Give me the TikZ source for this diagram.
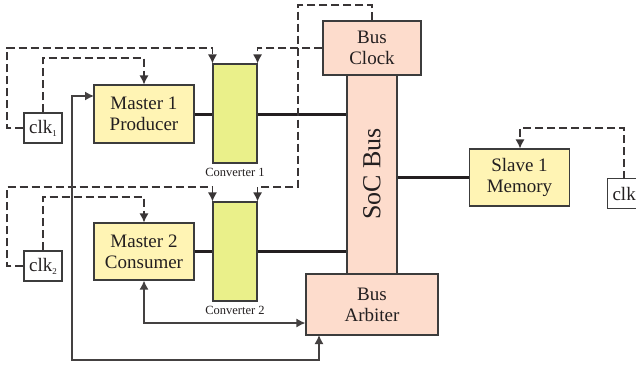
\documentclass[tikz,border=0pt]{standalone}
\usepackage{fontspec}
\setmainfont{Liberation Serif}
\usetikzlibrary{arrows.meta}
\definecolor{inkc}{HTML}{231F20}
\definecolor{edgec}{HTML}{3C3C3C}
\definecolor{mastfill}{HTML}{FFF4B4}
\definecolor{convfill}{HTML}{EAF08A}
\definecolor{busfill}{HTML}{FDDCCC}
\tikzset{
  blk/.style={draw=edgec, line width=1.1pt, inner sep=0pt, align=center,
    text=inkc, font=\fontsize{19}{21}\selectfont},
  mastbox/.style={blk, fill=mastfill, minimum width=100pt, minimum height=57pt},
  convbox/.style={blk, fill=convfill, minimum width=44pt, minimum height=99pt},
  busbox/.style={blk, fill=busfill},
  clkbox/.style={blk, fill=white, minimum width=38pt, minimum height=30pt},
  caption/.style={text=inkc, font=\fontsize{12.5}{14}\selectfont, inner sep=0pt},
  dsh/.style={draw=inkc!90, line width=1.2pt, dash pattern=on 8pt off 4pt},
  sol/.style={draw=inkc!85, line width=1.4pt},
  tip/.style={-{Latex[length=9pt,width=9pt]}},
  tips/.style={{Latex[length=9pt,width=9pt]}-{Latex[length=9pt,width=9pt]}},
  busline/.style={draw=inkc, line width=3pt}
}
\newcommand{\clksub}[1]{clk\raisebox{-3pt}{\fontsize{9}{9}\selectfont #1}}
\begin{document}
\begin{tikzpicture}[x=1pt, y=-1pt]
\useasboundingbox (0,0) rectangle (636,364);

% bus column: clock on top, arbiter at the foot
\node[busbox, minimum width=50pt, minimum height=199pt] (soc) at (372,174.5) {};
\node[busbox, minimum width=98pt, minimum height=54pt] (bc) at (372,48) {Bus\\Clock};
\node[busbox, minimum width=132pt, minimum height=61pt] (arb) at (372,304.5) {Bus\\Arbiter};
\node[text=inkc, font=\fontsize{26}{28}\selectfont, rotate=90, inner sep=0pt] (soclab) at (372,174) {SoC Bus};

% masters and converters
\node[mastbox, minimum height=58pt] (m1) at (144,114) {Master 1\\Producer};
\node[mastbox] (m2) at (144,251.5) {Master 2\\Consumer};
\node[convbox] (cv1) at (235,113.5) {};
\node[convbox] (cv2) at (235,251.5) {};
\node[caption] (cv1lab) at (235,172) {Converter 1};
\node[caption] (cv2lab) at (235,310) {Converter 2};

% slave side
\node[mastbox] (sl) at (519.5,177.5) {Slave 1\\Memory};

% clock sources
\node[clkbox] (k1) at (43,128) {\clksub{1}};
\node[clkbox] (k2) at (43,266) {\clksub{2}};
\node[clkbox, anchor=west, minimum width=0pt, text width=36pt, inner xsep=5pt, align=left] (k3) at (607,193.5) {clk};

% data paths
\draw[busline] (m1.east) -- (m1.east -| cv1.west);
\draw[busline] (cv1.east |- m1.east) -- (m1.east -| soc.west);
\draw[busline] (m2.east) -- (m2.east -| cv2.west);
\draw[busline] (cv2.east |- m2.east) -- (m2.east -| soc.west);
\draw[busline] (sl.west -| soc.east) -- (sl.west);

% clock distribution (dashed)
\coordinate (a1) at (7,48);
\coordinate (a2) at (144,58);
\coordinate (a3) at (7,187);
\coordinate (a4) at (144,197);
\coordinate (b1) at (298,5);
\coordinate (b2) at (298,187);
\coordinate (s1) at (624,179);
\coordinate (s2) at (624,128);
\coordinate (s3) at (520,128);
\draw[dsh, tip] (k1.west) -| (a1) -| (cv1.north west);
\draw[dsh, tip] (k1.north) |- (a2) -- (m1.north);
\draw[dsh, tip] (k2.west) -| (a3) -| (cv2.north west);
\draw[dsh, tip] (k2.north) |- (a4) -- (m2.north);
\draw[dsh, tip] (bc.west) -| (cv1.north east);
\draw[dsh, tip] (bc.north) |- (b1) -- (b2) -| (cv2.north east);
\draw[dsh, tip] (s1) -- (s2) -- (s3) -- (s3 |- sl.north);

% arbitration handshakes
\coordinate (r1) at (94,96);
\coordinate (r2) at (72,360);
\coordinate (r3) at (319,335);
\coordinate (q1) at (144,323);
\draw[sol, tips] (r1) -| (r2) -| (r3);
\draw[sol, tips] (m2.south) |- (q1 -| arb.west);
\end{tikzpicture}
\end{document}
